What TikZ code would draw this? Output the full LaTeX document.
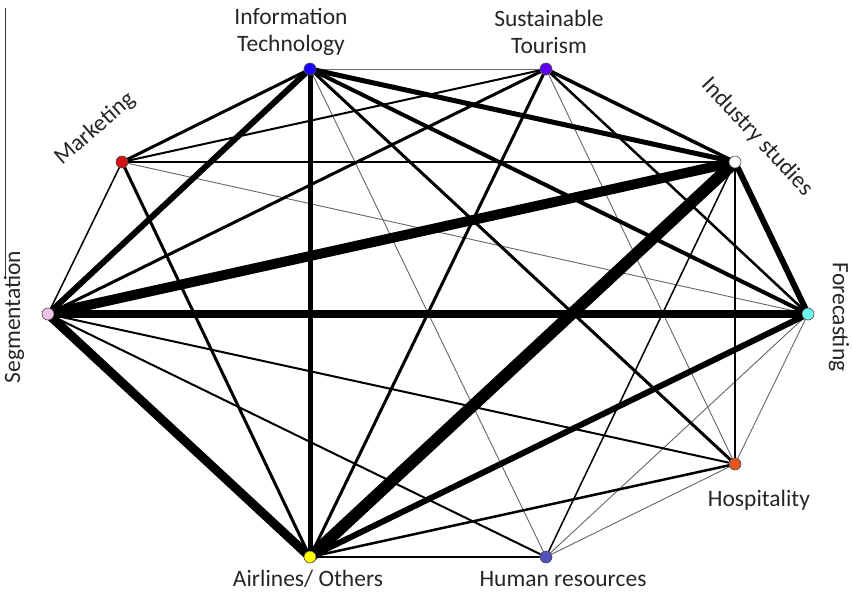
\documentclass[tikz,border=0pt]{standalone}
\usepackage{fontspec}
\setmainfont{Carlito}
\pgfdeclarelayer{background}
\pgfsetlayers{background,main}
\begin{document}
\begin{tikzpicture}[x=1pt,y=-1pt,
  vtx/.style={circle,draw=black!70,line width=0.6pt,minimum size=12pt,inner sep=0pt},
  lbl/.style={font=\fontsize{23.5}{27}\selectfont,text=black!85,align=center,inner sep=0pt},
  e/.style={line width=#1,black},
  te/.style={line width=0.9pt,black!60}]
\useasboundingbox (0,0) rectangle (852,595);
\draw[line width=1pt,black!80] (5,8) -- (5,277);
% vertices
\node[vtx,fill={rgb,255:red,26;green,0;blue,255}] (it) at (310,69) {};
\node[vtx,fill={rgb,255:red,100;green,0;blue,240}] (st) at (546,69) {};
\node[vtx,fill=white] (is) at (735,162) {};
\node[vtx,fill={rgb,255:red,110;green,250;blue,240}] (fc) at (808,314) {};
\node[vtx,fill={rgb,255:red,225;green,85;blue,30}] (ho) at (735,464) {};
\node[vtx,fill={rgb,255:red,80;green,80;blue,190}] (hr) at (546,557) {};
\node[vtx,fill={rgb,255:red,255;green,255;blue,0}] (air) at (310,557) {};
\node[vtx,fill={rgb,255:red,240;green,195;blue,232}] (seg) at (48,314) {};
\node[vtx,fill={rgb,255:red,210;green,20;blue,20}] (mkt) at (122,162) {};
% labels
\node[lbl] (itl) at (291,32) {Information\\Technology};
\node[lbl] (stl) at (549,32) {Sustainable\\Tourism};
\node[lbl,rotate=41] (mktl) at (95,129) {Marketing};
\node[lbl,rotate=-47] (isl) at (757,137) {Industry studies};
\node[lbl,rotate=90] (segl) at (14,317) {Segmentation};
\node[lbl,rotate=-90] (fcl) at (839,317) {Forecasting};
\node[lbl] (hol) at (759,500) {Hospitality};
\node[lbl] (hrl) at (563,579) {Human resources};
\node[lbl] (airl) at (308,579) {Airlines/ Others};
% edges
\begin{pgfonlayer}{background}
\draw[te] (it.center) -- (st.center);
\draw[te] (it.center) -- (hr.center);
\draw[te] (st.center) -- (ho.center);
\draw[te] (fc.center) -- (mkt.center);
\draw[te] (fc.center) -- (ho.center);
\draw[te] (fc.center) -- (hr.center);
\draw[te] (ho.center) -- (hr.center);
\draw[e=1.5] (is.center) -- (ho.center);
\draw[e=1.5] (is.center) -- (hr.center);
\draw[e=1.5] (seg.center) -- (mkt.center);
\draw[e=2] (st.center) -- (mkt.center);
\draw[e=2] (is.center) -- (mkt.center);
\draw[e=2] (ho.center) -- (seg.center);
\draw[e=2] (hr.center) -- (seg.center);
\draw[e=2.5] (ho.center) -- (air.center);
\draw[e=2.5] (hr.center) -- (air.center);
\draw[e=2.5] (st.center) -- (fc.center);
\draw[e=3] (it.center) -- (mkt.center);
\draw[e=3] (it.center) -- (ho.center);
\draw[e=3] (st.center) -- (seg.center);
\draw[e=3] (st.center) -- (air.center);
\draw[e=3] (air.center) -- (mkt.center);
\draw[e=3.5] (st.center) -- (is.center);
\draw[e=4] (it.center) -- (fc.center);
\draw[e=5] (it.center) -- (air.center);
\draw[e=5] (it.center) -- (is.center);
\draw[e=6] (it.center) -- (seg.center);
\draw[e=6] (is.center) -- (fc.center);
\draw[e=6] (fc.center) -- (air.center);
\draw[e=8] (fc.center) -- (seg.center);
\draw[e=9] (air.center) -- (seg.center);
\draw[e=10] (is.center) -- (seg.center);
\draw[e=12] (is.center) -- (air.center);
\end{pgfonlayer}
\end{tikzpicture}
\end{document}
